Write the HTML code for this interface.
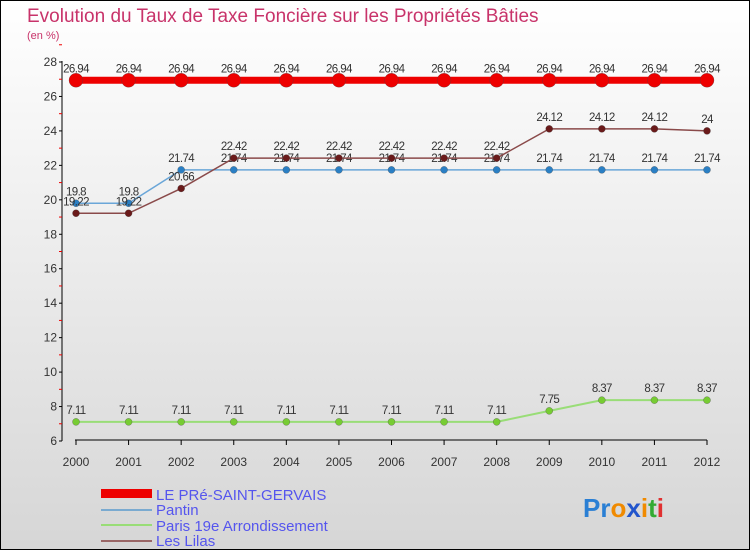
<!DOCTYPE html>
<html><head><meta charset="utf-8"><style>
body{margin:0}
#c{width:748px;height:548px;border:1px solid #000;background:linear-gradient(#fff,#d6d6d6);position:relative;font-family:"Liberation Sans",sans-serif;overflow:hidden}
</style></head><body>
<div id="c">
<svg id="s" width="748" height="548" style="position:absolute;left:0;top:0">
<text x="26" y="21" font-size="19" fill="#c8336a">Evolution du Taux de Taxe Foncière sur les Propriétés Bâties</text>
<text x="26" y="38" font-size="11" fill="#c8336a">(en %)</text>
<line x1="61" y1="60" x2="61" y2="440" stroke="#000"/>
<line x1="74" y1="439" x2="706" y2="439" stroke="#000"/>
<g id="axes"></g><g id="series"></g>
<g>
<rect x="100" y="488" width="51" height="9" fill="#e00"/>
<text x="155" y="499" font-size="15" fill="#5555ee">LE PRé-SAINT-GERVAIS</text>
<line x1="100" y1="509" x2="151" y2="509" stroke="#7aaad0" stroke-width="2"/>
<text x="155" y="514" font-size="15" fill="#5555ee">Pantin</text>
<line x1="100" y1="524" x2="151" y2="524" stroke="#99dd77" stroke-width="2"/>
<text x="155" y="530" font-size="15" fill="#5555ee">Paris 19e  Arrondissement</text>
<line x1="100" y1="540" x2="151" y2="540" stroke="#996666" stroke-width="2"/>
<text x="155" y="545" font-size="15" fill="#5555ee">Les Lilas</text>
</g>
<text x="582" y="516" font-size="26" font-weight="bold"><tspan fill="#2a7fd4">Pr</tspan><tspan fill="#f08a00">o</tspan><tspan fill="#2255cc">x</tspan><tspan fill="#f08a00">i</tspan><tspan fill="#33aa33">t</tspan><tspan fill="#e03030">i</tspan></text>
</svg>
</div>
<script>
const years=["2000","2001","2002","2003","2004","2005","2006","2007","2008","2009","2010","2011","2012"];
const yTicks=[6,8,10,12,14,16,18,20,22,24,26,28];
const preSaintGervais=[26.94,26.94,26.94,26.94,26.94,26.94,26.94,26.94,26.94,26.94,26.94,26.94,26.94];
const pantin=[19.8,19.8,21.74,21.74,21.74,21.74,21.74,21.74,21.74,21.74,21.74,21.74,21.74];
const paris19=[7.11,7.11,7.11,7.11,7.11,7.11,7.11,7.11,7.11,7.75,8.37,8.37,8.37];
const lesLilas=[19.22,19.22,20.66,22.42,22.42,22.42,22.42,22.42,22.42,24.12,24.12,24.12,24];
const NS="http://www.w3.org/2000/svg";
const X=i=>75+i*(631/12);
const Y=v=>61+(28-v)*(379/22);
function mk(t,a,p){const e=document.createElementNS(NS,t);for(const k in a)e.setAttribute(k,a[k]);p.appendChild(e);return e;}
const ax=document.getElementById('axes');
yTicks.forEach(v=>{
 mk('line',{x1:58,x2:61,y1:Y(v),y2:Y(v),stroke:'#000'},ax);
 mk('line',{x1:58,x2:61,y1:Y(v+1),y2:Y(v+1),stroke:'#e00'},ax);
 const t=mk('text',{x:56,y:Y(v)+4,'font-size':12,'text-anchor':'end',fill:'#333'},ax);
 
 
 t.textContent=v;
});
years.forEach((y,i)=>{
 mk('line',{x1:X(i),x2:X(i),y1:439,y2:444,stroke:'#000'},ax);
 const t=mk('text',{x:X(i),y:465,'font-size':12,'text-anchor':'middle',fill:'#333'},ax);
 
 
 t.textContent=y;
});
const sg=document.getElementById('series');
function series(data,name,col,dot,w,r,fmt){
 const g=mk('g',{},sg);
 
 
 mk('polyline',{points:data.map((v,i)=>X(i)+','+Y(v)).join(' '),fill:'none',stroke:col,'stroke-width':w},g);
 data.forEach((v,i)=>{
  const c=mk('circle',{cx:X(i),cy:Y(v),r:r,fill:dot,stroke:'#444','stroke-width':0.3},g);
  
  
  const t=mk('text',{x:X(i),y:Y(v)-8,'font-size':11.5,'text-anchor':'middle',fill:'#333','letter-spacing':'-0.6'},g);
  
  
  t.textContent=String(v);
 });
}
series(paris19,'paris-19e-line','#99dd77','#77cc33',2,3.5);
series(pantin,'pantin-line','#6aa6d8','#2a7fc4',1.5,3.5);
series(lesLilas,'les-lilas-line','#8a4a4a','#6a1a1a',1.5,3.5);
series(preSaintGervais,'pre-saint-gervais-line','#ee0000','#ee0000',7,7);
</script>
</body></html>
